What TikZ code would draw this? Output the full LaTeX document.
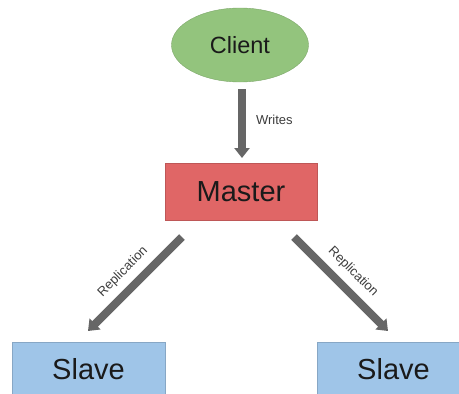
\documentclass[tikz,border=0pt]{standalone}
\usepackage{fontspec}
\setmainfont{Liberation Sans}
\usetikzlibrary{arrows.meta,shapes.geometric}
\definecolor{clientgreen}{HTML}{93C47D}
\definecolor{masterred}{HTML}{E06666}
\definecolor{slaveblue}{HTML}{9FC5E8}
\definecolor{arrowgray}{HTML}{666666}
\definecolor{inkdark}{HTML}{1A1A1A}
\begin{document}
\begin{tikzpicture}[x=1pt,y=-1pt,
  box/.style={draw=#1!85!black, line width=0.4pt, fill=#1, inner sep=0pt, text=inkdark},
  flow/.style={draw=arrowgray, line width=8pt, -{Triangle[width=15pt,length=10pt]}},
  tag/.style={font=\fontsize{13}{15}\selectfont, text=inkdark!85, inner sep=1pt}]
\useasboundingbox (0,0) rectangle (459,394);
\clip (0,0) rectangle (459,394);
% client
\node[ellipse, box=clientgreen, minimum width=137pt, minimum height=74pt,
      font=\fontsize{23.5}{28}\selectfont] (client) at (240,45) {Client};
% master
\node[rectangle, box=masterred, minimum width=152pt, minimum height=57pt,
      font=\fontsize{29}{34}\selectfont] (master) at (241,191.5) {Master};
% slaves (they run off the bottom edge)
\node[rectangle, box=slaveblue, minimum width=153pt, minimum height=60pt,
      font=\fontsize{29}{34}\selectfont, text depth=7pt] (slaveL) at (88.5,372) {Slave};
\node[rectangle, box=slaveblue, minimum width=153pt, minimum height=60pt,
      font=\fontsize{29}{34}\selectfont, text depth=7pt] (slaveR) at (393.5,372) {Slave};
% connectors
\coordinate (wS) at (242,89);
\coordinate (wE) at (242,158);
\draw[flow] (wS) -- (wE) node[pos=0.44, right=9pt, tag] (wlab) {Writes};
\coordinate (lS) at (182,237);
\coordinate (lE) at (88,331);
\draw[flow] (lS) -- (lE) node[midway, sloped, above=6pt, tag] (llab) {Replication};
\coordinate (rS) at (294,237);
\coordinate (rE) at (388,331);
\draw[flow] (rS) -- (rE) node[midway, sloped, above=6pt, tag] (rlab) {Replication};
\end{tikzpicture}
\end{document}
